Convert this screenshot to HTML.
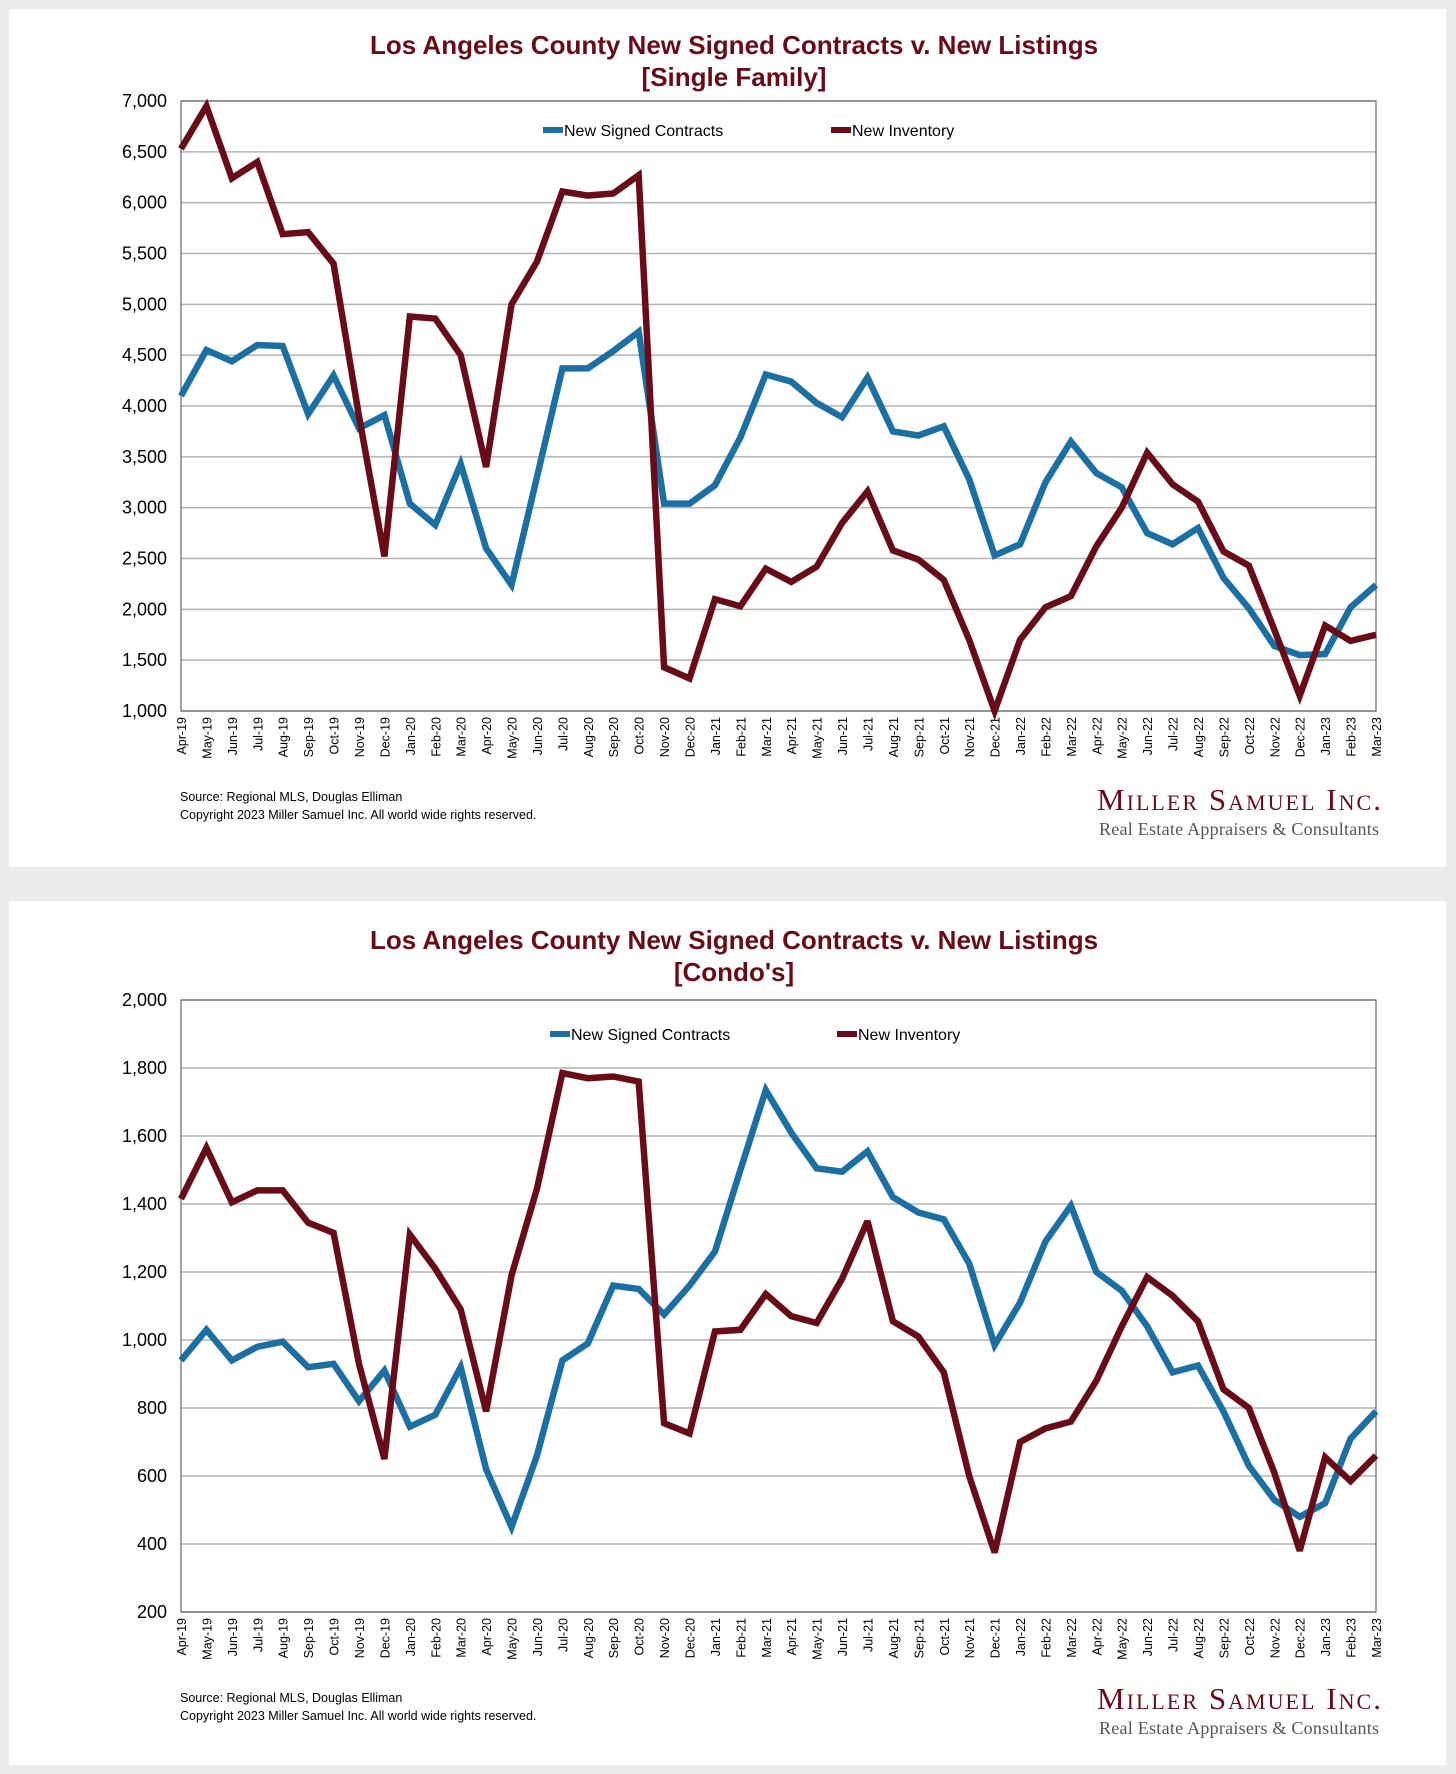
<!DOCTYPE html>
<html><head><meta charset="utf-8">
<style>
html,body{margin:0;padding:0;background:#ececec;}
body{width:1456px;height:1774px;position:relative;overflow:hidden;font-family:"Liberation Sans",Arial,sans-serif;}
.panel{position:absolute;left:9px;width:1437px;background:#fff;}
svg{position:absolute;left:0;top:0;}
</style></head>
<body>
<div class="panel" style="top:9px;height:858px;"></div>
<div class="panel" style="top:901px;height:864px;"></div>
<svg id="chart" width="1456" height="1774"></svg>
<script>
const months = ["Apr-19","May-19","Jun-19","Jul-19","Aug-19","Sep-19","Oct-19","Nov-19","Dec-19","Jan-20","Feb-20","Mar-20","Apr-20","May-20","Jun-20","Jul-20","Aug-20","Sep-20","Oct-20","Nov-20","Dec-20","Jan-21","Feb-21","Mar-21","Apr-21","May-21","Jun-21","Jul-21","Aug-21","Sep-21","Oct-21","Nov-21","Dec-21","Jan-22","Feb-22","Mar-22","Apr-22","May-22","Jun-22","Jul-22","Aug-22","Sep-22","Oct-22","Nov-22","Dec-22","Jan-23","Feb-23","Mar-23"];
const sfContracts = [4100,4550,4440,4600,4590,3920,4300,3780,3910,3040,2830,3430,2600,2240,3300,4370,4370,4540,4730,3040,3040,3220,3690,4310,4240,4030,3890,4280,3750,3710,3800,3280,2530,2640,3250,3650,3340,3200,2750,2640,2800,2310,2010,1640,1550,1560,2020,2240];
const sfInventory = [6530,6950,6240,6400,5690,5710,5400,3900,2520,4880,4860,4500,3400,5000,5420,6110,6070,6090,6270,1430,1320,2100,2030,2400,2270,2420,2850,3160,2580,2490,2290,1700,1000,1700,2020,2130,2620,3000,3540,3230,3060,2570,2430,1800,1150,1840,1690,1750];
const condoContracts = [940,1030,940,980,995,920,930,820,910,745,780,920,620,450,660,940,990,1160,1150,1075,1160,1260,1500,1735,1610,1505,1495,1555,1420,1375,1355,1225,985,1110,1290,1395,1200,1145,1040,905,925,790,630,530,480,520,710,790];
const condoInventory = [1415,1565,1405,1440,1440,1345,1315,930,650,1310,1210,1090,790,1190,1445,1785,1770,1775,1760,755,725,1025,1030,1135,1070,1050,1180,1350,1055,1010,905,600,375,700,740,760,880,1040,1185,1130,1055,855,800,610,380,655,585,660];
const sfTicks = [1000,1500,2000,2500,3000,3500,4000,4500,5000,5500,6000,6500,7000];
const condoTicks = [200,400,600,800,1000,1200,1400,1600,1800,2000];

const NS="http://www.w3.org/2000/svg";
const svg=document.getElementById('chart');
const BLUE="#1b6fa3", MAROON="#680d18";
function el(tag,attrs,parent,text){const e=document.createElementNS(NS,tag);for(const k in attrs)e.setAttribute(k,attrs[k]);if(text!==undefined)e.textContent=text;(parent||svg).appendChild(e);return e;}
function fmt(v){return v.toLocaleString('en-US');}

function drawChart(o){
  const g=el('g',{});
  
  
  const L=181,R=1376,T=o.top,B=o.bottom;
  const ymin=o.ticks[0],ymax=o.ticks[o.ticks.length-1];
  const y=v=>B-(v-ymin)/(ymax-ymin)*(B-T);
  const x=i=>L+i*(R-L)/(months.length-1);
  const t1=el('text',{x:734,y:o.titleY,'text-anchor':'middle','font-size':'26','font-weight':'bold',fill:MAROON},g,"Los Angeles County New Signed Contracts v. New Listings");
  
  
  const t2=el('text',{x:734,y:o.titleY+32,'text-anchor':'middle','font-size':'26','font-weight':'bold',fill:MAROON},g,o.subtitle);
  
  
  o.ticks.forEach(v=>{
    const gl=el('line',{x1:L,x2:R,y1:y(v),y2:y(v),stroke:'#b3b3b3','stroke-width':1.5},g);
    
    
    const tl=el('text',{x:L-14,y:y(v)+6,'text-anchor':'end','font-size':'18',fill:'#000'},g,fmt(v));
    
    
  });
  const fr=el('rect',{x:L,y:T,width:R-L,height:B-T,fill:'none',stroke:'#666','stroke-width':1.2},g);
  
  
  months.forEach((m,i)=>{
    const xl=el('text',{x:0,y:0,transform:`translate(${x(i)+5},${B+6}) rotate(-90)`,'text-anchor':'end','font-size':'12.5',fill:'#000'},g,m);
    
    
  });
  [[o.contracts,BLUE,'contracts-line'],[o.inventory,MAROON,'inventory-line']].forEach(([d,c,n])=>{
    const p=el('polyline',{points:d.map((v,i)=>x(i)+','+y(v)).join(' '),fill:'none',stroke:c,'stroke-width':6.5,'stroke-linejoin':'miter','stroke-miterlimit':3},g);
    
    
  });
  const ly=o.legendY;
  const lg1=el('g',{},g);
  
  
  el('line',{x1:o.legX1,x2:o.legX1+20,y1:ly,y2:ly,stroke:BLUE,'stroke-width':6},lg1);
  el('text',{x:o.legX1+21,y:ly+6,'font-size':'16',fill:'#000'},lg1,'New Signed Contracts');
  const lg2=el('g',{},g);
  
  
  el('line',{x1:o.legX2,x2:o.legX2+20,y1:ly,y2:ly,stroke:MAROON,'stroke-width':6},lg2);
  el('text',{x:o.legX2+21,y:ly+6,'font-size':'16',fill:'#000'},lg2,'New Inventory');
  const s1=el('text',{x:180,y:o.srcY,'font-size':'12.5',fill:'#000'},g,'Source: Regional MLS, Douglas Elliman');
  
  
  const s2=el('text',{x:180,y:o.srcY+18,'font-size':'12.5',fill:'#000'},g,'Copyright 2023 Miller Samuel Inc.  All world wide rights reserved.');
  
  
  const lo=el('text',{x:1381,y:o.logoY,'text-anchor':'end','font-family':'"Liberation Serif",serif','font-size':'31',fill:MAROON,'font-variant':'small-caps',textLength:'284'},g,'Miller Samuel Inc.');
  
  
  const lo2=el('text',{x:1379,y:o.logoY+25,'text-anchor':'end','font-family':'"Liberation Serif",serif','font-size':'18',fill:'#555',textLength:'280'},g,'Real Estate Appraisers & Consultants');
  
  
}
drawChart({name:'single-family-chart',subtitle:'[Single Family]',top:101,bottom:711,ticks:sfTicks,contracts:sfContracts,inventory:sfInventory,titleY:54,legendY:130,legX1:543,legX2:831,srcY:801,logoY:810});
drawChart({name:'condo-chart',subtitle:"[Condo's]",top:1000,bottom:1612,ticks:condoTicks,contracts:condoContracts,inventory:condoInventory,titleY:949,legendY:1034,legX1:550,legX2:837,srcY:1702,logoY:1709});
</script>
</body></html>
